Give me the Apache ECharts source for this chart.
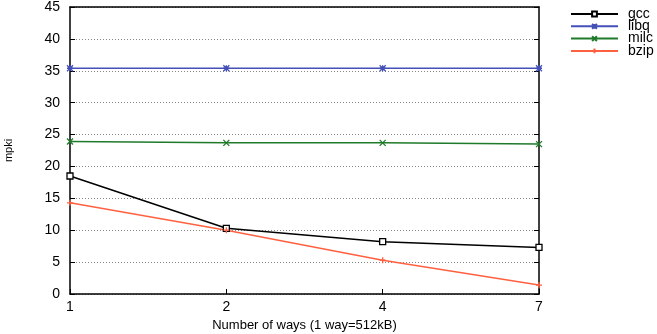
<!DOCTYPE html>
<html><head><meta charset="utf-8">
<script src="https://cdn.jsdelivr.net/npm/echarts@6/dist/echarts.min.js"></script>
<style>html,body{margin:0;padding:0;background:#fff}#c{width:657px;height:334px}</style>
</head><body><div id="c"></div>
<script>
const categories = ['1', '2', '4', '7'];
const gcc  = [18.5, 10.3, 8.2, 7.3];
const libq = [35.4, 35.4, 35.4, 35.4];
const milc = [23.9, 23.7, 23.7, 23.5];
const bzip = [14.3, 10.0, 5.3, 1.4];
const yTicks = [0, 5, 10, 15, 20, 25, 30, 35, 40, 45];

const F = '"Liberation Sans", Arial, sans-serif';
const X = 'path://M0,0L10,10M10,0L0,10';
const PLUS = 'path://M5,0L5,10M0,5L10,5';
const STAR = 'path://M0,0L10,10M10,0L0,10M5,0L5,10M0,5L10,5';

function s(name, data, color, symbol, size, fill) {
  return {
    name, type: 'line', data, symbol, symbolSize: size, showAllSymbol: true,
    lineStyle: { color, width: 1.5 },
    itemStyle: { color: fill || color, borderColor: color, borderWidth: 1.3 },
    emphasis: { disabled: true }, animation: false
  };
}

const chart = echarts.init(document.getElementById('c'));
chart.setOption({
  animation: false,
  textStyle: { fontFamily: F },
  grid: { left: 70, right: 118, top: 7, bottom: 40, containLabel: false, outerBoundsMode: 'none' },
  legend: {
    orient: 'vertical', left: 570, top: 7, padding: 0, itemGap: -1.7,
    itemWidth: 47, itemHeight: 6,
    textStyle: { fontFamily: F, fontSize: 14, color: '#000', padding: [0, 0, 0, 5] },
    data: ['gcc', 'libq', 'milc', 'bzip']
  },
  xAxis: [{
    type: 'category', data: categories, boundaryGap: false,
    name: 'Number of ways (1 way=512kB)', nameLocation: 'middle', nameGap: 22,
    nameTextStyle: { fontFamily: F, fontSize: 13, color: '#000' },
    axisLine: { lineStyle: { color: '#000', width: 1.5 } },
    axisTick: { inside: true, length: 5, lineStyle: { color: '#000' } },
    axisLabel: { fontFamily: F, fontSize: 14, color: '#000', margin: 6 },
    splitLine: { show: false }
  }, {
    type: 'category', data: categories, boundaryGap: false, position: 'top',
    axisLine: { show: true, onZero: false, lineStyle: { color: '#000', width: 1.5 } },
    axisTick: { show: false }, axisLabel: { show: false }
  }],
  yAxis: [{
    type: 'value', min: 0, max: 45, interval: 5,
    name: 'mpki', nameLocation: 'middle', nameGap: 56, nameRotate: 90,
    nameTextStyle: { fontFamily: F, fontSize: 11, color: '#000' },
    axisLine: { show: true, lineStyle: { color: '#000', width: 1.5 } },
    axisTick: { show: true, inside: true, length: 5, lineStyle: { color: '#000' } },
    axisLabel: { fontFamily: F, fontSize: 14, color: '#000', margin: 10,
      formatter: v => yTicks.includes(v) ? String(v) : '' },
    splitLine: { show: true, lineStyle: { color: '#888', type: [1, 2], width: 1 } }
  }, {
    type: 'value', min: 0, max: 45, interval: 5, position: 'right',
    axisLine: { show: true, lineStyle: { color: '#000', width: 1.5 } },
    axisTick: { show: true, inside: true, length: 5, lineStyle: { color: '#000' } },
    axisLabel: { show: false }, splitLine: { show: false }
  }],
  series: [
    s('gcc', gcc, '#000000', 'rect', 6, '#ffffff'),
    s('libq', libq, '#4450b8', STAR, 6),
    s('milc', milc, '#1f7a2a', X, 6),
    s('bzip', bzip, '#ff6040', PLUS, 6)
  ]
});
</script></body></html>
